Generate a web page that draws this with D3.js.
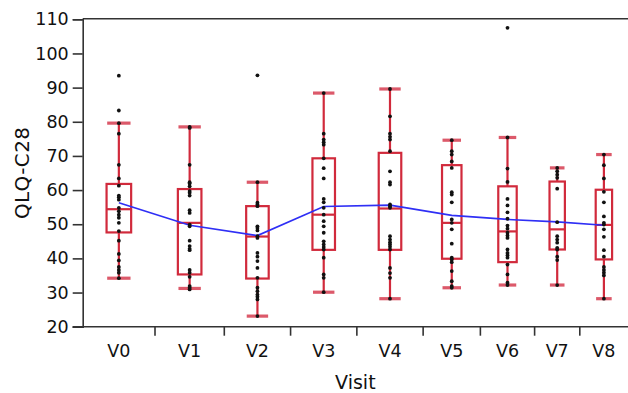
<!DOCTYPE html>
<html><head><meta charset="utf-8">
<script src="https://cdn.jsdelivr.net/npm/d3@7"></script>
<style>body{margin:0;background:#fff}svg{display:block}text{font-family:"DejaVu Sans",sans-serif;fill:#111}</style>
</head><body><svg id="c" width="628" height="393"></svg>
<script>
const visits = ["V0","V1","V2","V3","V4","V5","V6","V7","V8"];
const counts = [24,23,22,22,22,19,18,15,16];
const q1 = [47.6,35.3,34.1,42.5,42.5,39.9,38.9,42.6,39.7];
const median = [54.4,50.4,46.4,52.8,54.6,50.4,47.9,48.5,49.8];
const q3 = [61.8,60.3,55.3,69.3,70.9,67.3,61.1,62.5,60.1];
const whiskerLow = [34.2,31.2,23.1,30.1,28.2,31.4,32.2,32.2,28.2];
const whiskerHigh = [79.6,78.5,62.3,88.4,89.6,74.6,75.4,66.5,70.4];
const means = [56.3,49.7,46.7,55.2,55.6,52.6,51.4,50.7,49.7];
const points = [
  [93.5,83.3,79.6,76.5,67.4,63.4,61.3,58.4,57.9,57.2,54.8,53.8,52.8,51.9,50.4,48,45.2,41.3,39.4,37.5,36.6,35.8,34.2],
  [78.5,78.2,67.4,62.3,61.9,61.1,59.7,59.2,58.4,54.1,53.3,49.9,49.4,45.2,43.6,42.8,42.4,36.6,35.8,34.6,31.9,31.4,30.9],
  [93.6,62.3,56.3,55.8,55.3,49.4,48.9,48.2,46.5,46.0,41.6,40.5,39.2,37.2,34.3,31.4,30.4,29.4,28.8,28.0,23.1],
  [88.4,76.5,74.8,74.0,73.3,69.3,66.4,63.4,57.4,56.4,54.8,52.8,50.9,49.4,47.5,45.0,44.1,43.3,42.6,40.2,35.3,34.3,30.1],
  [89.6,81.6,76.5,75.6,74.8,71.4,65.5,62.3,61.6,55.8,55.3,54.8,46.5,45.5,44.7,44.1,43.4,42.6,37.2,35.7,34.3,28.2],
  [74.6,71.4,70.4,68.4,66.5,59.4,58.7,56.4,51.4,50.4,48.5,44.3,40.2,39.7,38.9,36.3,33.3,31.9,31.4],
  [107.5,75.4,66.3,62.4,57.4,55.5,53.5,51.6,49.6,48.7,47.5,46.7,46.0,42.6,41.6,40.9,40.2,38.2,35.3,32.9,32.2],
  [66.5,65.5,64.5,63.6,60.4,50.6,46.5,45.5,44.6,43.1,42.6,40.5,39.5,32.2],
  [70.4,67.3,63.4,59.5,56.4,52.3,50.4,49.9,48.5,46.3,42.4,40.5,37.5,36.6,35.8,35.0,28.2]
];
const yTicks = [20,30,40,50,60,70,80,90,100,110];

const svg = d3.select("#c");
const pl = 82.7, pr = 628, pt = 19.3, pb = 326.7;
const y = d3.scaleLinear().domain([20,110]).range([pb, pt]);
const total = d3.sum(counts);
const xw = d3.scaleLinear().domain([0,total]).range([pl,pr]);
const cum = [0]; counts.forEach((c,i)=>cum.push(cum[i]+c));
const bandStart = i => xw(cum[i]);
const bandEnd = i => xw(cum[i+1]);
const cx = i => (bandStart(i)+bandEnd(i))/2;
const bw = i => bandEnd(i)-bandStart(i);

const red = "#d12a3c", capRed = "#d9485a";
const g = svg.append("g");

g.append("line").attr("x1",pl).attr("x2",pr).attr("y1",pt-0.5).attr("y2",pt-0.5)
  .attr("stroke","#333").attr("stroke-width",1.6);

const yAxis = d3.axisLeft(y).tickValues(yTicks).tickSize(10).tickPadding(4);
const ya = g.append("g").attr("transform",`translate(${pl},0)`).call(yAxis);
ya.select(".domain").attr("stroke","#333").attr("stroke-width",1.6);
ya.selectAll(".tick line").attr("stroke","#333").attr("stroke-width",1.6);
ya.selectAll("text").style("font-size","17.5px").attr("fill","#111").attr("font-family","DejaVu Sans");

const xa = g.append("g").attr("transform",`translate(0,${pb})`);
xa.append("line").attr("x1",pl-10).attr("x2",pr).attr("stroke","#333").attr("stroke-width",1.6);
for (let i=1;i<visits.length;i++){
  xa.append("line").attr("x1",bandStart(i)).attr("x2",bandStart(i)).attr("y1",0).attr("y2",9)
    .attr("stroke","#333").attr("stroke-width",1.6);
}
visits.forEach((v,i)=>{
  xa.append("text").attr("x",cx(i)).attr("y",30).attr("text-anchor","middle")
    .style("font-size","17.5px").text(v);
});

svg.append("text").attr("x",(pl+pr)/2).attr("y",389).attr("text-anchor","middle")
  .style("font-size","19px").text("Visit");
svg.append("text").attr("transform",`translate(29,${(pt+pb)/2}) rotate(-90)`)
  .attr("text-anchor","middle").style("font-size","20px")
  .attr("textLength",92).attr("lengthAdjust","spacing").text("QLQ-C28");

visits.forEach((v,i)=>{
  const x = cx(i), w = bw(i)*0.34, cw = w*0.95;
  const bg = g.append("g");
  bg.append("line").attr("x1",x).attr("x2",x).attr("y1",y(whiskerHigh[i])).attr("y2",y(q3[i]))
    .attr("stroke",red).attr("stroke-width",2.2);
  bg.append("line").attr("x1",x).attr("x2",x).attr("y1",y(q1[i])).attr("y2",y(whiskerLow[i]))
    .attr("stroke",red).attr("stroke-width",2.2);
  [whiskerHigh[i],whiskerLow[i]].forEach(val=>{
    bg.append("line").attr("x1",x-cw/2).attr("x2",x+cw/2).attr("y1",y(val)).attr("y2",y(val))
      .attr("stroke",capRed).attr("stroke-width",3.2).attr("opacity",0.9);
  });
  bg.append("rect").attr("x",x-w/2).attr("width",w).attr("y",y(q3[i])).attr("height",y(q1[i])-y(q3[i]))
    .attr("fill","none").attr("stroke",red).attr("stroke-width",2.2);
  bg.append("line").attr("x1",x-w/2).attr("x2",x+w/2).attr("y1",y(median[i])).attr("y2",y(median[i]))
    .attr("stroke",red).attr("stroke-width",2.2);
});

g.append("path").datum(means)
  .attr("d",d3.line().x((d,i)=>cx(i)).y(d=>y(d)))
  .attr("fill","none").attr("stroke","#2f2ff5").attr("stroke-width",1.7);

visits.forEach((v,i)=>{
  g.selectAll(null).data(points[i]).enter().append("circle")
    .attr("cx",cx(i)).attr("cy",d=>y(d)).attr("r",1.9).attr("fill","#111");
});
</script></body></html>
